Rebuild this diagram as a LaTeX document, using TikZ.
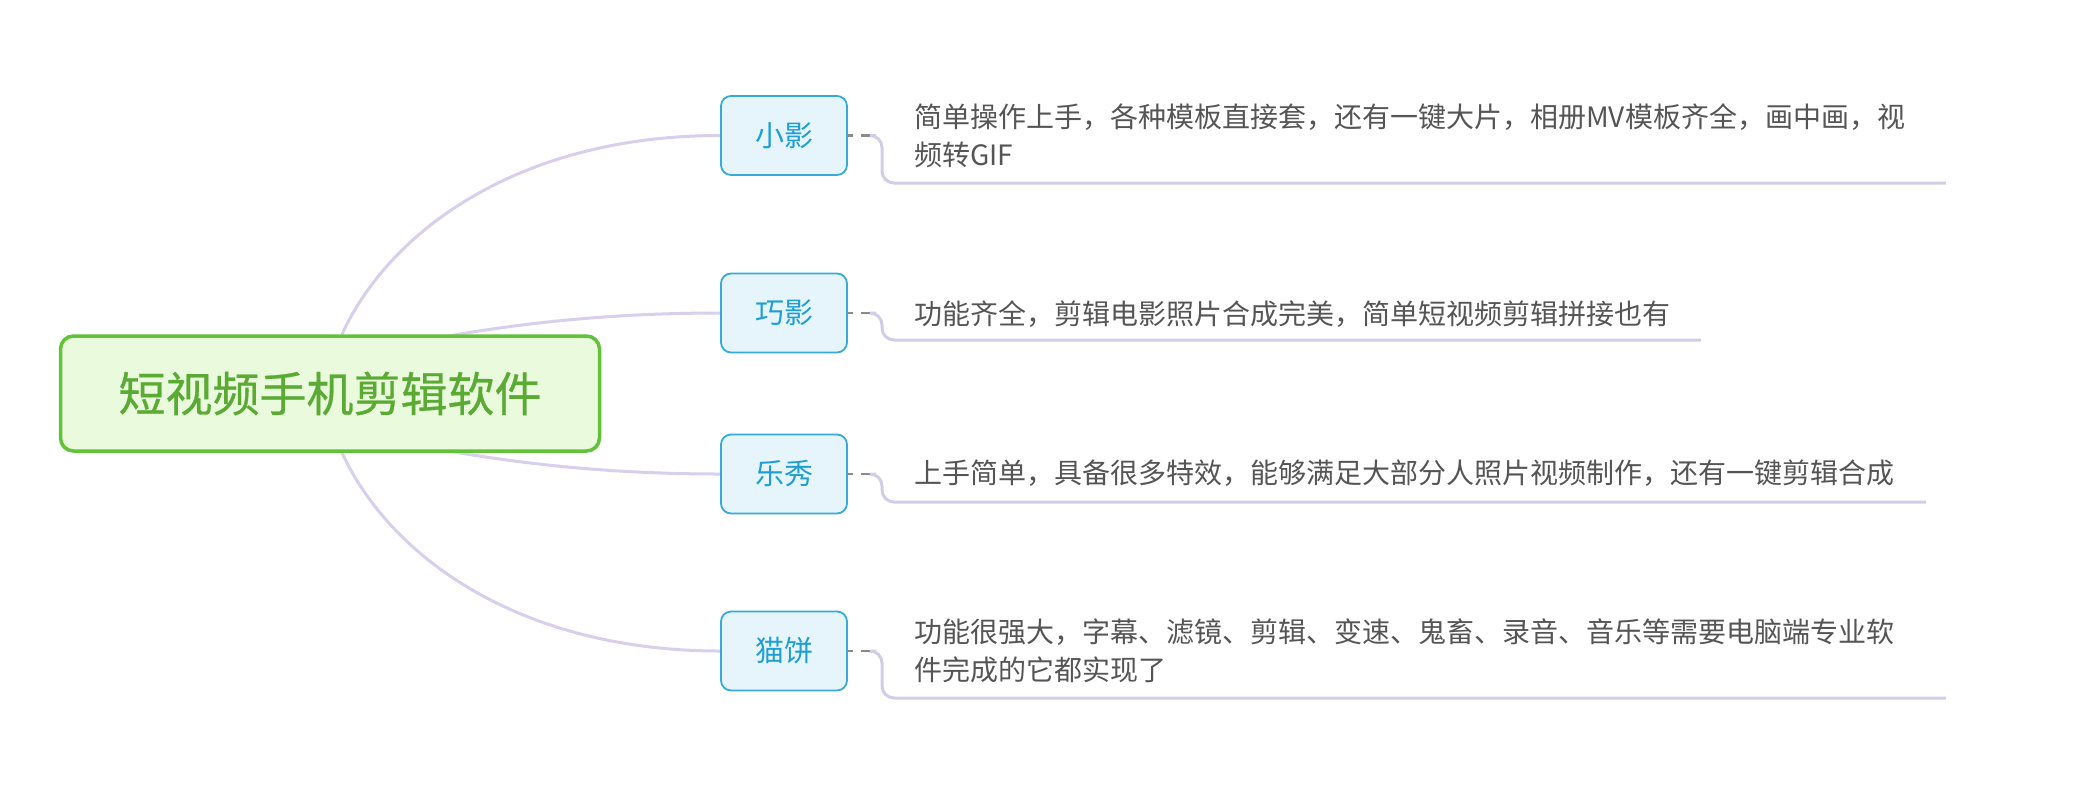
\documentclass[tikz,border=0pt]{standalone}
\usepackage{fontspec}
\setmainfont{Noto Sans CJK SC}
\newfontfamily\rootfont{Noto Sans CJK SC}[FakeBold=0.6]
\usetikzlibrary{backgrounds}
\definecolor{rootfill}{HTML}{E9FBDC}
\definecolor{rootdraw}{HTML}{62C23A}
\definecolor{roottext}{HTML}{5BAA34}
\definecolor{kidfill}{HTML}{E6F5FC}
\definecolor{kiddraw}{HTML}{37AADB}
\definecolor{kidtext}{HTML}{1F9ED6}
\definecolor{branch}{HTML}{D8CFEC}
\definecolor{uline}{HTML}{D3CCE8}
\definecolor{desc}{HTML}{555555}
\definecolor{dashc}{HTML}{8A8A8A}
\begin{document}
\begin{tikzpicture}[x=1pt,y=-1pt,
  rootbox/.style={draw=rootdraw, line width=3.5pt, fill=rootfill, rounded corners=13pt, minimum width=539pt, minimum height=115pt, inner sep=0pt, text=roottext, font=\rootfont\fontsize{47}{50}\selectfont},
  kidbox/.style={draw=kiddraw, line width=1.8pt, fill=kidfill, rounded corners=10pt, minimum width=126pt, minimum height=79pt, inner sep=0pt, text=kidtext, font=\fontsize{29}{32}\selectfont},
  desctext/.style={anchor=north west, inner sep=0pt, align=left, text=desc, font=\fontsize{28}{38}\selectfont},
  branchline/.style={draw=branch, line width=3pt},
  ulineline/.style={draw=uline, line width=3pt, rounded corners=12pt},
  dashline/.style={draw=dashc, line width=2.5pt, dash pattern=on 5pt off 8pt on 10pt off 100pt}
]
\useasboundingbox (0,0) rectangle (2076,788);
\node[rootbox] (root) at (330,393.5) {短视频手机剪辑软件};
\node[kidbox] (k1) at (784,135.5) {小影};
\node[kidbox] (k2) at (784,313) {巧影};
\node[kidbox] (k3) at (784,474) {乐秀};
\node[kidbox] (k4) at (784,651) {猫饼};

\node[desctext] (t1) at (914,103) {简单操作上手，各种模板直接套，还有一键大片，相册MV模板齐全，画中画，视\\频转GIF};
\node[desctext] (t2) at (914,300) {功能齐全，剪辑电影照片合成完美，简单短视频剪辑拼接也有};
\node[desctext] (t3) at (914,460) {上手简单，具备很多特效，能够满足大部分人照片视频制作，还有一键剪辑合成};
\node[desctext] (t4) at (914,619) {功能很强大，字幕、滤镜、剪辑、变速、鬼畜、录音、音乐等需要电脑端专业软\\件完成的它都实现了};

\coordinate (b1) at (882,135.5);
\coordinate (b2) at (882,313);
\coordinate (b3) at (882,474);
\coordinate (b4) at (882,651);
\coordinate (u1) at (1946,183);
\coordinate (u2) at (1701,340);
\coordinate (u3) at (1926,502);
\coordinate (u4) at (1946,698);

\foreach \i in {1,2,3,4}{
  \draw[dashline] (k\i.east) -- (b\i);
  \draw[ulineline] ([xshift=-6pt]b\i) -- (b\i) |- (u\i);
}

\begin{scope}[on background layer]
\fill[white] (0,0) rectangle (2076,788);
\draw[branchline] ([xshift=12pt]root.north) .. controls (390,230) and (520,135.5) .. (k1.west);
\draw[branchline] (400,345) .. controls (500,325) and (600,313) .. (k2.west);
\draw[branchline] (400,442) .. controls (500,462) and (600,474) .. (k3.west);
\draw[branchline] ([xshift=12pt]root.south) .. controls (390,557) and (520,651) .. (k4.west);
\end{scope}
\end{tikzpicture}
\end{document}
